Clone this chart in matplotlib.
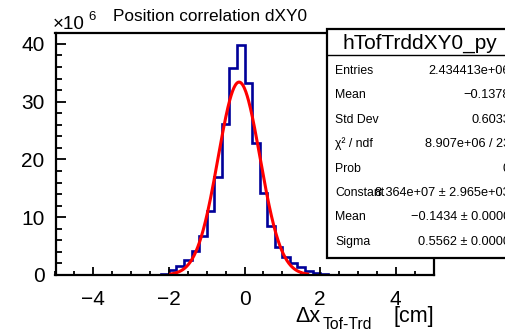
import numpy as np
import matplotlib
matplotlib.use("Agg")
import matplotlib.pyplot as plt
from matplotlib.patches import Rectangle
from matplotlib.ticker import MultipleLocator, FuncFormatter

plt.rcParams['font.family'] = ['Liberation Sans', 'DejaVu Sans']

# ---- data ----
x_min, x_max, n_bins = -5.0, 5.0, 50
# bin contents in units of 1e6 (bins of width 0.2 from -5 to 5)
counts_1e6 = [0, 0, 0, 0, 0, 0, 0, 0, 0, 0,
              0, 0, 0, 0, 0.1, 0.8, 1.6, 2.6, 4.2, 6.8,
              11.0, 17.0, 26.1, 35.9, 39.9, 33.3, 22.9, 14.2, 8.5, 4.9,
              3.1, 2.0, 1.3, 0.75, 0.3, 0.1, 0, 0, 0, 0,
              0, 0, 0, 0, 0, 0, 0, 0, 0, 0]
fit_amplitude = 33.4e6      # drawn peak height of the gaussian
fit_mean = -0.1434
fit_sigma = 0.5562
fit_range = (-1.95, 1.67)

title = "Position correlation dXY0"
hist_name = "hTofTrddXY0_py"
stat_labels = ["Entries", "Mean", "Std Dev", "\u03c7\u00b2 / ndf", "Prob",
               "Constant", "Mean", "Sigma"]
stat_values = ["2.434413e+06", "\u22120.1378", "0.6033", "8.907e+06 / 23",
               "0", "8.364e+07 \u00b1 2.965e+03", "\u22120.1434 \u00b1 0.0000",
               "0.5562 \u00b1 0.0000"]

# ---- figure ----
W, H = 505, 330
fig = plt.figure(figsize=(W / 100, H / 100), dpi=100)
L, R, T, B = 55.5, 433.5, 33, 275
ax = fig.add_axes([L / W, 1 - B / H, (R - L) / W, (B - T) / H])

edges = np.linspace(x_min, x_max, n_bins + 1)
counts = np.array(counts_1e6) * 1e6
ax.stairs(counts, edges, color='#000099', lw=1.9, baseline=0)

xf = np.linspace(fit_range[0], fit_range[1], 300)
yf = fit_amplitude * np.exp(-0.5 * ((xf - fit_mean) / fit_sigma) ** 2)
ax.plot(xf, yf, color='#ff0000', lw=2.2)

ax.set_xlim(x_min, x_max)
ax.set_ylim(0, counts.max() * 1.05)

for s in ax.spines.values():
    s.set_linewidth(1.6)
ax.xaxis.set_major_locator(MultipleLocator(2))
ax.xaxis.set_minor_locator(MultipleLocator(0.5))
ax.yaxis.set_major_locator(MultipleLocator(10e6))
ax.yaxis.set_minor_locator(MultipleLocator(2e6))
ax.yaxis.set_major_formatter(FuncFormatter(lambda v, p: f"{v/1e6:.0f}"))
ax.xaxis.set_major_formatter(FuncFormatter(lambda v, p: f"{v:.0f}".replace('-', '\u2212')))
ax.tick_params(axis='both', which='both', direction='in', top=False, right=False)
ax.tick_params(axis='y', which='major', length=7, width=1.3, pad=8.0, labelsize=15)
ax.tick_params(axis='y', which='minor', length=4, width=1.3)
ax.tick_params(axis='x', which='major', length=5.5, width=1.3, pad=10.5, labelsize=15)
ax.tick_params(axis='x', which='minor', length=2.8, width=1.3)

# ---- overlay in pixel coordinates ----
ov = fig.add_axes([0, 0, 1, 1], zorder=5)
ov.set_xlim(0, W)
ov.set_ylim(H, 0)
ov.axis('off')
ov.patch.set_alpha(0)

ov.text(113, 21, title, fontsize=12.4, va='baseline', ha='left')
ov.text(53, 29, "\u00d710", fontsize=13.5, va='baseline', ha='left')
ov.text(88.5, 20, "6", fontsize=9.5, va='baseline', ha='left')

ov.text(295, 322, "\u0394x", fontsize=15.5, va='baseline', ha='left')
ov.text(323, 329, "Tof-Trd", fontsize=11.3, va='baseline', ha='left')
ov.text(434, 322, "[cm]", fontsize=15.5, va='baseline', ha='right')

# stats box
bx0, by0, by1 = 327, 29, 258
ov.add_patch(Rectangle((bx0, by0), 200, by1 - by0, facecolor='white',
                       edgecolor='black', lw=1.6))
ov.plot([bx0, 527], [55, 55], color='black', lw=1.0)
ov.text(342, 49, hist_name, fontsize=15, va='baseline', ha='left')
for k, (lab, val) in enumerate(zip(stat_labels, stat_values)):
    yb = 74 + 24.4 * k
    ov.text(335, yb, lab, fontsize=8.8, va='baseline', ha='left')
    ov.text(510, yb, val, fontsize=9.2, va='baseline', ha='right')

fig.savefig("out.png", dpi=100)
